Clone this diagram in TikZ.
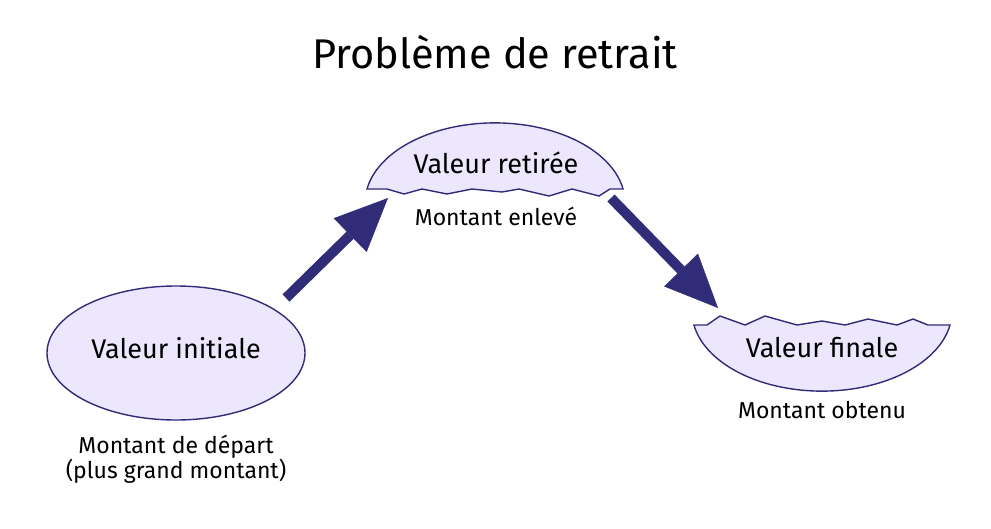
\documentclass[tikz,border=0pt]{standalone}
\usepackage{fontspec}
\setmainfont{Fira Sans}
\usetikzlibrary{arrows.meta}
\usetikzlibrary{shapes.geometric}
\definecolor{lilas}{HTML}{ECE7FC}
\definecolor{encre}{HTML}{302C78}
\tikzset{x=1pt, y=-1pt,
bulle/.style={ % Sets the properties for each value shape
draw=encre,
fill=lilas,
line width=1.4pt},
valeur/.style={font=\fontsize{27}{32}\selectfont, anchor=base}, % Text inside the shapes
note/.style={font=\fontsize{23}{25}\selectfont, align=center}, % Text under the shapes
fleche/.style={ % Sets the properties for the big arrows
draw=encre,
line width=10pt,
-{Triangle[length=53pt, width=47pt, line width=0.5pt]}}}

\begin{document}
\begin{tikzpicture}
\useasboundingbox (0,0) rectangle (991,528);
\node[font=\fontsize{41.5}{48}\selectfont, anchor=base] (titre) at (495,68) {Problème de retrait};
\node[bulle, ellipse, minimum width=258pt, minimum height=134pt, inner sep=0pt] (initiale) at (176,353) {};
\path[bulle] (367,189) arc[start angle=170, end angle=10, x radius=130pt, y radius=80pt]
  -- (610,189) -- (599,196) -- (572,189) -- (549,196) -- (519,189) -- (502,192)
  -- (472,189) -- (447,194) -- (422,189) -- (404,194) -- (387,189) -- cycle;
\path[bulle] (950,325) arc[start angle=-10, end angle=-170, x radius=130pt, y radius=80pt]
  -- (707,325) -- (720,316) -- (745,325) -- (765,316) -- (797,325) -- (822,321)
  -- (845,325) -- (868,319) -- (897,325) -- (913,319) -- (928,325) -- cycle;
\node[valeur] (initialeTxt) at (176,358) {Valeur initiale};
\node[valeur] (retiree) at (496,173) {Valeur retirée};
\node[valeur] (finale) at (822,357) {Valeur finale};
\node[note] (depart) at (176,459) {Montant de départ\\(plus grand montant)};
\node[note] (enleve) at (496,216) {Montant enlevé};
\node[note] (obtenu) at (822,410) {Montant obtenu};
\coordinate (a1) at (286,298);
\coordinate (b1) at (388,198);
\coordinate (a2) at (611,198);
\coordinate (b2) at (718,308);
\draw[fleche] (a1) -- (b1);
\draw[fleche] (a2) -- (b2);
\end{tikzpicture}
\end{document}
